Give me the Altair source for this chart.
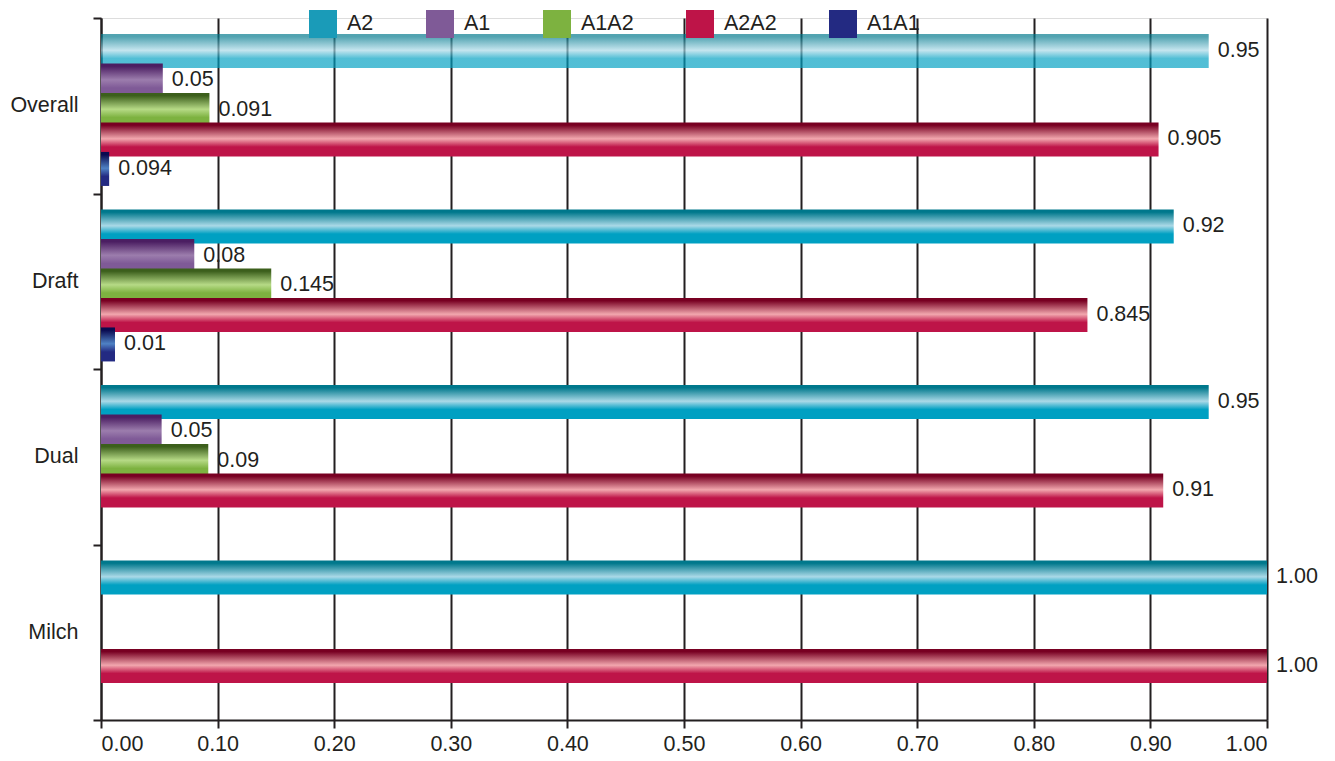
import altair as alt
import pandas as pd

categories = ["Overall", "Draft", "Dual", "Milch"]
series = ["A2", "A1", "A1A2", "A2A2", "A1A1"]

# bar lengths (None = no bar)
vals_a2 = [0.95, 0.92, 0.95, 1.00]
vals_a1 = [0.053, 0.08, 0.052, None]
vals_a1a2 = [0.093, 0.146, 0.092, None]
vals_a2a2 = [0.907, 0.846, 0.911, 1.00]
vals_a1a1 = [0.007, 0.012, None, None]

# printed data labels
lab_a2 = ["0.95", "0.92", "0.95", "1.00"]
lab_a1 = ["0.05", "0.08", "0.05", None]
lab_a1a2 = ["0.091", "0.145", "0.09", None]
lab_a2a2 = ["0.905", "0.845", "0.91", "1.00"]
lab_a1a1 = ["0.094", "0.01", None, None]

values = [vals_a2, vals_a1, vals_a1a2, vals_a2a2, vals_a1a1]
labels = [lab_a2, lab_a1, lab_a1a2, lab_a2a2, lab_a1a1]

# (dark top, light middle, base) per series
shades = {
    "A2": ("#00788c", "#aad9e7", "#00a0c2"),
    "A1": ("#4b1e62", "#9c7dad", "#7f5a97"),
    "A1A2": ("#3c5f1c", "#b6da86", "#7db240"),
    "A2A2": ("#780022", "#f2a7ae", "#be1448"),
    "A1A1": ("#0a0a50", "#4f82c4", "#232a82"),
}
legend_colors = ["#1a9bb8", "#7f5a97", "#7db240", "#be1448", "#232a82"]

rows = []
for s, vs, ls in zip(series, values, labels):
    for c, v, l in zip(categories, vs, ls):
        if v is not None:
            rows.append({"Category": c, "Series": s, "Value": v, "Label": l})
df = pd.DataFrame(rows)

TXT = "#231f20"
FONT = "Liberation Sans"
FS = 21.5

y_enc = alt.Y("Category:N", sort=categories,
              scale=alt.Scale(domain=categories, paddingInner=0, paddingOuter=0),
              axis=alt.Axis(title=None, tickBand="extent", tickSize=8, tickWidth=2,
                            tickColor=TXT, domainColor=TXT, domainWidth=2,
                            labelFontSize=FS, labelColor=TXT, labelFont=FONT,
                            labelPadding=15, grid=False))
yoff_enc = alt.YOffset("Series:N",
                       scale=alt.Scale(domain=series, paddingInner=0,
                                       paddingOuter=0.475, align=0.65))
x_enc = alt.X("Value:Q", scale=alt.Scale(domain=[0, 1], nice=False),
              axis=alt.Axis(title=None, values=[i / 10 for i in range(11)], format=".2f",
                            grid=True, gridColor=TXT, gridWidth=2, tickColor=TXT,
                            tickSize=8, tickWidth=2, domainColor=TXT, domainWidth=2,
                            labelFontSize=FS, labelColor=TXT, labelFont=FONT,
                            labelPadding=5))

base = alt.Chart(df)
layers = []
for s in series:
    dark, light, mid = shades[s]
    grad = alt.LinearGradient(
        gradient="linear", x1=0, x2=0, y1=0, y2=1,
        stops=[alt.GradientStop(color=dark, offset=0),
               alt.GradientStop(color=dark, offset=0.08),
               alt.GradientStop(color=light, offset=0.48),
               alt.GradientStop(color=mid, offset=0.72),
               alt.GradientStop(color=mid, offset=1)])
    bar = base.transform_filter(alt.datum.Series == s).mark_bar(
        fill=grad, size=34, strokeWidth=0).encode(
        x=x_enc, y=y_enc, yOffset=yoff_enc,
        opacity=alt.condition(
            (alt.datum.Series == "A2") & (alt.datum.Category == "Overall"),
            alt.value(0.68), alt.value(1)))
    layers.append(bar)

texts = base.mark_text(align="left", baseline="middle", dx=9, fontSize=FS,
                       font=FONT, color=TXT).encode(
    x=x_enc, y=y_enc, yOffset=yoff_enc, text="Label:N")
layers.append(texts)

legend_layer = base.transform_filter("false").mark_square(opacity=1).encode(
    x=x_enc, y=y_enc,
    color=alt.Color("Series:N",
                    scale=alt.Scale(domain=series, range=legend_colors),
                    legend=alt.Legend(title=None, orient="none", legendX=208, legendY=-8,
                                      direction="horizontal", symbolType="square",
                                      symbolSize=784, symbolStrokeWidth=0,
                                      symbolOpacity=1, labelFontSize=FS,
                                      labelColor=TXT, labelFont=FONT, labelOffset=10,
                                      columnPadding=52)))
layers.append(legend_layer)

chart = alt.layer(*layers).properties(
    width=1166, height=702,
    autosize=alt.AutoSizeParams(type="none"),
    padding={"left": 101, "top": 18, "right": 68, "bottom": 41},
).configure_view(stroke=None).configure(background="white")

chart.save("out.html", embed_options={"renderer": "svg", "actions": False})
